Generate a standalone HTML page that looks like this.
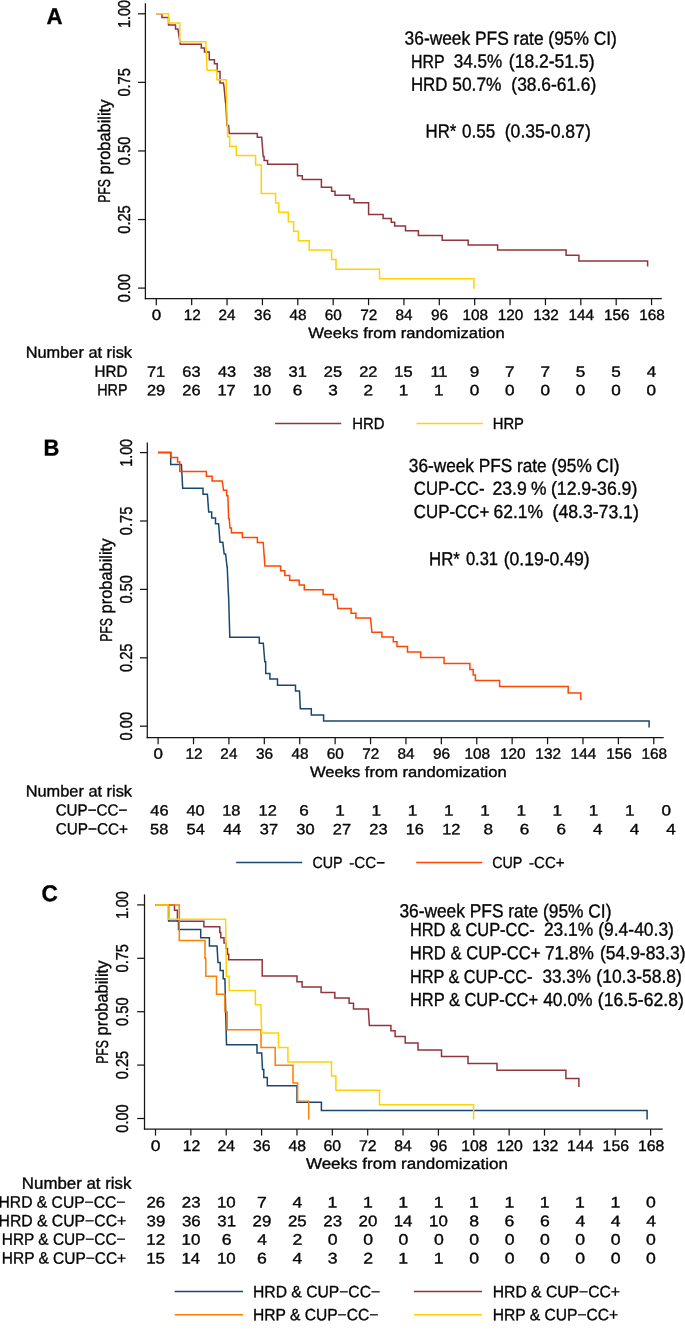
<!DOCTYPE html>
<html lang="en"><head><meta charset="utf-8"><title>PFS Kaplan-Meier</title>
<style>
html,body{margin:0;padding:0;background:#fff;}
svg{display:block;font-family:"Liberation Sans",sans-serif;}
text{white-space:pre;stroke:#050505;stroke-width:0.35px;}
</style></head><body>
<svg width="685" height="1330" viewBox="0 0 685 1330">
<rect width="685" height="1330" fill="#ffffff"/>
<text transform="translate(46.44,24.10) rotate(0.03) scale(0.9662,1)" font-size="23.0" font-weight="bold" fill="#000">A</text>
<line x1="145.40" y1="3.20" x2="145.40" y2="299.23" stroke="#151515" stroke-width="1.25" stroke-linecap="butt"/>
<line x1="144.78" y1="298.60" x2="661.80" y2="298.60" stroke="#151515" stroke-width="1.25" stroke-linecap="butt"/>
<line x1="138.10" y1="13.80" x2="145.40" y2="13.80" stroke="#151515" stroke-width="1.25" stroke-linecap="butt"/>
<text transform="translate(129.80,28.02) rotate(-89.97) scale(0.8285,1)" font-size="17.3" fill="#050505">1.00</text>
<line x1="138.10" y1="82.38" x2="145.40" y2="82.38" stroke="#151515" stroke-width="1.25" stroke-linecap="butt"/>
<text transform="translate(129.80,96.59) rotate(-89.97) scale(0.8470,1)" font-size="17.3" fill="#050505">0.75</text>
<line x1="138.10" y1="150.95" x2="145.40" y2="150.95" stroke="#151515" stroke-width="1.25" stroke-linecap="butt"/>
<text transform="translate(129.80,165.16) rotate(-89.97) scale(0.8447,1)" font-size="17.3" fill="#050505">0.50</text>
<line x1="138.10" y1="219.53" x2="145.40" y2="219.53" stroke="#151515" stroke-width="1.25" stroke-linecap="butt"/>
<text transform="translate(129.80,233.74) rotate(-89.97) scale(0.8470,1)" font-size="17.3" fill="#050505">0.25</text>
<line x1="138.10" y1="288.10" x2="145.40" y2="288.10" stroke="#151515" stroke-width="1.25" stroke-linecap="butt"/>
<text transform="translate(129.80,302.31) rotate(-89.97) scale(0.8447,1)" font-size="17.3" fill="#050505">0.00</text>
<line x1="156.30" y1="298.60" x2="156.30" y2="305.20" stroke="#151515" stroke-width="1.25" stroke-linecap="butt"/>
<text transform="translate(151.74,320.00) rotate(0.03) scale(1.1400,1)" font-size="14.9" fill="#050505">0</text>
<line x1="191.68" y1="298.60" x2="191.68" y2="305.20" stroke="#151515" stroke-width="1.25" stroke-linecap="butt"/>
<text transform="translate(183.73,320.00) rotate(0.03) scale(1.0300,1)" font-size="14.9" fill="#050505">12</text>
<line x1="227.05" y1="298.60" x2="227.05" y2="305.20" stroke="#151515" stroke-width="1.25" stroke-linecap="butt"/>
<text transform="translate(218.49,320.00) rotate(0.03) scale(1.0300,1)" font-size="14.9" fill="#050505">24</text>
<line x1="262.43" y1="298.60" x2="262.43" y2="305.20" stroke="#151515" stroke-width="1.25" stroke-linecap="butt"/>
<text transform="translate(254.10,320.00) rotate(0.03) scale(1.0300,1)" font-size="14.9" fill="#050505">36</text>
<line x1="297.80" y1="298.60" x2="297.80" y2="305.20" stroke="#151515" stroke-width="1.25" stroke-linecap="butt"/>
<text transform="translate(289.59,320.00) rotate(0.03) scale(1.0300,1)" font-size="14.9" fill="#050505">48</text>
<line x1="333.18" y1="298.60" x2="333.18" y2="305.20" stroke="#151515" stroke-width="1.25" stroke-linecap="butt"/>
<text transform="translate(324.70,320.00) rotate(0.03) scale(1.0300,1)" font-size="14.9" fill="#050505">60</text>
<line x1="368.56" y1="298.60" x2="368.56" y2="305.20" stroke="#151515" stroke-width="1.25" stroke-linecap="butt"/>
<text transform="translate(360.15,320.00) rotate(0.03) scale(1.0300,1)" font-size="14.9" fill="#050505">72</text>
<line x1="403.93" y1="298.60" x2="403.93" y2="305.20" stroke="#151515" stroke-width="1.25" stroke-linecap="butt"/>
<text transform="translate(395.45,320.00) rotate(0.03) scale(1.0300,1)" font-size="14.9" fill="#050505">84</text>
<line x1="439.31" y1="298.60" x2="439.31" y2="305.20" stroke="#151515" stroke-width="1.25" stroke-linecap="butt"/>
<text transform="translate(430.90,320.00) rotate(0.03) scale(1.0300,1)" font-size="14.9" fill="#050505">96</text>
<line x1="474.68" y1="298.60" x2="474.68" y2="305.20" stroke="#151515" stroke-width="1.25" stroke-linecap="butt"/>
<text transform="translate(462.44,320.00) rotate(0.03) scale(1.0300,1)" font-size="14.9" fill="#050505">108</text>
<line x1="510.06" y1="298.60" x2="510.06" y2="305.20" stroke="#151515" stroke-width="1.25" stroke-linecap="butt"/>
<text transform="translate(497.78,320.00) rotate(0.03) scale(1.0300,1)" font-size="14.9" fill="#050505">120</text>
<line x1="545.44" y1="298.60" x2="545.44" y2="305.20" stroke="#151515" stroke-width="1.25" stroke-linecap="butt"/>
<text transform="translate(533.23,320.00) rotate(0.03) scale(1.0300,1)" font-size="14.9" fill="#050505">132</text>
<line x1="580.81" y1="298.60" x2="580.81" y2="305.20" stroke="#151515" stroke-width="1.25" stroke-linecap="butt"/>
<text transform="translate(568.45,320.00) rotate(0.03) scale(1.0300,1)" font-size="14.9" fill="#050505">144</text>
<line x1="616.19" y1="298.60" x2="616.19" y2="305.20" stroke="#151515" stroke-width="1.25" stroke-linecap="butt"/>
<text transform="translate(603.94,320.00) rotate(0.03) scale(1.0300,1)" font-size="14.9" fill="#050505">156</text>
<line x1="651.56" y1="298.60" x2="651.56" y2="305.20" stroke="#151515" stroke-width="1.25" stroke-linecap="butt"/>
<text transform="translate(639.32,320.00) rotate(0.03) scale(1.0300,1)" font-size="14.9" fill="#050505">168</text>
<text transform="translate(308.30,338.00) rotate(0.03) scale(1.1105,1)" font-size="14.9" fill="#050505">Weeks from randomization</text>
<text transform="translate(110.10,202.78) rotate(-89.97) scale(0.7104,1)" font-size="17.2" fill="#050505">PFS</text>
<text transform="translate(110.10,174.38) rotate(-89.97) scale(0.9535,1)" font-size="17.2" fill="#050505">probability</text>
<text transform="translate(404.59,44.60) rotate(0.03) scale(0.9191,1)" font-size="18.9" fill="#050505">36-week PFS rate (95% CI)</text>
<text transform="translate(411.03,67.60) rotate(0.03) scale(0.8418,1)" font-size="18.9" fill="#050505">HRP</text>
<text transform="translate(453.80,67.60) rotate(0.03) scale(0.9051,1)" font-size="18.9" fill="#050505">34.5%</text>
<text transform="translate(508.85,67.60) rotate(0.03) scale(0.9274,1)" font-size="18.9" fill="#050505">(18.2-51.5)</text>
<text transform="translate(410.95,90.80) rotate(0.03) scale(0.8896,1)" font-size="18.9" fill="#050505">HRD</text>
<text transform="translate(452.31,90.80) rotate(0.03) scale(0.9183,1)" font-size="18.9" fill="#050505">50.7%</text>
<text transform="translate(511.36,90.80) rotate(0.03) scale(0.9197,1)" font-size="18.9" fill="#050505">(38.6-61.6)</text>
<text transform="translate(425.56,137.60) rotate(0.03) scale(0.8879,1)" font-size="18.9" fill="#050505">HR*</text>
<text transform="translate(462.10,137.60) rotate(0.03) scale(0.8998,1)" font-size="18.9" fill="#050505">0.55</text>
<text transform="translate(504.74,137.60) rotate(0.03) scale(0.9308,1)" font-size="18.9" fill="#050505">(0.35-0.87)</text>
<path d="M156.1,13.7L162.0,13.7L162.0,17.5L168.5,17.5L168.5,25.1L175.5,25.1L175.5,28.9L177.9,28.9L180.3,44.3L201.3,44.3L201.3,48.1L204.5,48.1L204.5,52.1L209.3,52.1L209.3,59.8L214.4,59.8L214.4,63.8L217.2,63.8L217.2,71.5L220.0,71.5L220.0,83.0L223.4,83.0L224.0,86.5L224.0,86.5L225.5,102.5L225.8,102.5L227.0,125.5L228.6,125.5L229.3,133.4L257.3,133.4L257.3,137.3L261.7,137.3L263.2,156.6L264.1,156.6L264.1,160.5L267.6,160.5L267.6,164.2L297.5,164.2L297.5,175.7L302.3,175.7L302.3,179.6L321.4,179.6L321.4,187.3L331.6,187.3L331.6,191.2L335.0,191.2L335.0,195.2L349.6,195.2L349.6,199.0L354.0,199.0L354.0,202.8L368.6,202.8L368.6,214.6L383.1,214.6L383.1,218.5L391.3,218.5L391.3,222.2L394.7,222.2L394.7,226.0L405.5,226.0L405.5,230.7L418.4,230.7L418.4,235.4L442.2,235.4L442.2,240.3L468.2,240.3L468.2,245.0L497.6,245.0L497.6,250.0L566.1,250.0L566.1,255.3L578.9,255.3L578.9,261.0L647.6,261.0L647.6,266.6" fill="none" stroke="#90353B" stroke-width="1.5" stroke-linejoin="miter"/>
<path d="M156.1,13.7L168.5,13.7L168.5,23.1L179.8,23.1L179.8,41.7L205.8,41.7L207.1,70.3L216.9,70.3L216.9,79.8L226.2,79.8L226.6,100.0L226.6,100.0L227.4,127.4L227.6,127.4L227.6,136.8L229.7,136.8L229.7,146.2L236.3,146.2L236.3,155.5L255.6,155.5L255.6,164.9L261.3,164.9L261.3,193.6L275.6,193.6L275.6,203.1L278.8,203.1L278.8,212.3L288.3,212.3L288.3,221.7L293.6,221.7L293.6,231.2L298.4,231.2L298.4,240.7L309.2,240.7L309.2,250.0L331.6,250.0L331.6,259.5L336.0,259.5L336.0,269.2L379.5,269.2L379.5,278.7L473.9,278.7L473.9,288.7" fill="none" stroke="#FFD200" stroke-width="1.5" stroke-linejoin="miter"/>
<text transform="translate(25.69,357.80) rotate(0.03) scale(1.0224,1)" font-size="16.0" fill="#050505">Number at risk</text>
<text transform="translate(94.58,376.70) rotate(0.03) scale(0.9498,1)" font-size="16.0" fill="#050505">HRD</text>
<text transform="translate(97.25,395.20) rotate(0.03) scale(0.8965,1)" font-size="16.0" fill="#050505">HRP</text>
<text transform="translate(146.96,376.70) rotate(0.03) scale(1.1000,1)" font-size="14.9" fill="#050505">71</text>
<text transform="translate(146.96,395.30) rotate(0.03) scale(1.1000,1)" font-size="14.9" fill="#050505">29</text>
<text transform="translate(182.30,376.70) rotate(0.03) scale(1.1000,1)" font-size="14.9" fill="#050505">63</text>
<text transform="translate(182.30,395.30) rotate(0.03) scale(1.1000,1)" font-size="14.9" fill="#050505">26</text>
<text transform="translate(217.92,376.70) rotate(0.03) scale(1.1000,1)" font-size="14.9" fill="#050505">43</text>
<text transform="translate(217.51,395.30) rotate(0.03) scale(1.1000,1)" font-size="14.9" fill="#050505">17</text>
<text transform="translate(253.17,376.70) rotate(0.03) scale(1.1000,1)" font-size="14.9" fill="#050505">38</text>
<text transform="translate(252.80,395.30) rotate(0.03) scale(1.1000,1)" font-size="14.9" fill="#050505">10</text>
<text transform="translate(288.59,376.70) rotate(0.03) scale(1.1000,1)" font-size="14.9" fill="#050505">31</text>
<text transform="translate(292.76,395.30) rotate(0.03) scale(1.1500,1)" font-size="14.9" fill="#050505">6</text>
<text transform="translate(323.80,376.70) rotate(0.03) scale(1.1000,1)" font-size="14.9" fill="#050505">25</text>
<text transform="translate(328.27,395.30) rotate(0.03) scale(1.1500,1)" font-size="14.9" fill="#050505">3</text>
<text transform="translate(359.22,376.70) rotate(0.03) scale(1.1000,1)" font-size="14.9" fill="#050505">22</text>
<text transform="translate(363.56,395.30) rotate(0.03) scale(1.1500,1)" font-size="14.9" fill="#050505">2</text>
<text transform="translate(394.35,376.70) rotate(0.03) scale(1.1000,1)" font-size="14.9" fill="#050505">15</text>
<text transform="translate(398.72,395.30) rotate(0.03) scale(1.1500,1)" font-size="14.9" fill="#050505">1</text>
<text transform="translate(430.38,376.70) rotate(0.03) scale(1.1000,1)" font-size="14.9" fill="#050505">11</text>
<text transform="translate(434.10,395.30) rotate(0.03) scale(1.1500,1)" font-size="14.9" fill="#050505">1</text>
<text transform="translate(469.73,376.70) rotate(0.03) scale(1.1500,1)" font-size="14.9" fill="#050505">9</text>
<text transform="translate(469.73,395.30) rotate(0.03) scale(1.1500,1)" font-size="14.9" fill="#050505">0</text>
<text transform="translate(505.06,376.70) rotate(0.03) scale(1.1500,1)" font-size="14.9" fill="#050505">7</text>
<text transform="translate(505.11,395.30) rotate(0.03) scale(1.1500,1)" font-size="14.9" fill="#050505">0</text>
<text transform="translate(540.44,376.70) rotate(0.03) scale(1.1500,1)" font-size="14.9" fill="#050505">7</text>
<text transform="translate(540.48,395.30) rotate(0.03) scale(1.1500,1)" font-size="14.9" fill="#050505">0</text>
<text transform="translate(575.86,376.70) rotate(0.03) scale(1.1500,1)" font-size="14.9" fill="#050505">5</text>
<text transform="translate(575.86,395.30) rotate(0.03) scale(1.1500,1)" font-size="14.9" fill="#050505">0</text>
<text transform="translate(611.23,376.70) rotate(0.03) scale(1.1500,1)" font-size="14.9" fill="#050505">5</text>
<text transform="translate(611.23,395.30) rotate(0.03) scale(1.1500,1)" font-size="14.9" fill="#050505">0</text>
<text transform="translate(646.65,376.70) rotate(0.03) scale(1.1500,1)" font-size="14.9" fill="#050505">4</text>
<text transform="translate(646.61,395.30) rotate(0.03) scale(1.1500,1)" font-size="14.9" fill="#050505">0</text>
<line x1="275.10" y1="423.45" x2="341.20" y2="423.45" stroke="#90353B" stroke-width="1.5" stroke-linecap="butt"/>
<text transform="translate(352.21,429.00) rotate(0.03) scale(0.9283,1)" font-size="16.0" fill="#050505">HRD</text>
<line x1="416.50" y1="423.45" x2="482.90" y2="423.45" stroke="#FFD200" stroke-width="1.5" stroke-linecap="butt"/>
<text transform="translate(492.72,429.00) rotate(0.03) scale(0.9249,1)" font-size="16.0" fill="#050505">HRP</text>
<text transform="translate(43.47,455.60) rotate(0.03) scale(0.9544,1)" font-size="23.0" font-weight="bold" fill="#000">B</text>
<line x1="147.30" y1="442.40" x2="147.30" y2="738.23" stroke="#151515" stroke-width="1.25" stroke-linecap="butt"/>
<line x1="146.68" y1="737.60" x2="663.70" y2="737.60" stroke="#151515" stroke-width="1.25" stroke-linecap="butt"/>
<line x1="140.00" y1="452.60" x2="147.30" y2="452.60" stroke="#151515" stroke-width="1.25" stroke-linecap="butt"/>
<text transform="translate(131.50,466.82) rotate(-89.97) scale(0.8285,1)" font-size="17.3" fill="#050505">1.00</text>
<line x1="140.00" y1="521.00" x2="147.30" y2="521.00" stroke="#151515" stroke-width="1.25" stroke-linecap="butt"/>
<text transform="translate(131.50,535.21) rotate(-89.97) scale(0.8470,1)" font-size="17.3" fill="#050505">0.75</text>
<line x1="140.00" y1="589.40" x2="147.30" y2="589.40" stroke="#151515" stroke-width="1.25" stroke-linecap="butt"/>
<text transform="translate(131.50,603.61) rotate(-89.97) scale(0.8447,1)" font-size="17.3" fill="#050505">0.50</text>
<line x1="140.00" y1="657.80" x2="147.30" y2="657.80" stroke="#151515" stroke-width="1.25" stroke-linecap="butt"/>
<text transform="translate(131.50,672.01) rotate(-89.97) scale(0.8470,1)" font-size="17.3" fill="#050505">0.25</text>
<line x1="140.00" y1="726.20" x2="147.30" y2="726.20" stroke="#151515" stroke-width="1.25" stroke-linecap="butt"/>
<text transform="translate(131.50,740.41) rotate(-89.97) scale(0.8447,1)" font-size="17.3" fill="#050505">0.00</text>
<line x1="158.10" y1="737.60" x2="158.10" y2="744.20" stroke="#151515" stroke-width="1.25" stroke-linecap="butt"/>
<text transform="translate(153.54,758.80) rotate(0.03) scale(1.1400,1)" font-size="14.9" fill="#050505">0</text>
<line x1="193.51" y1="737.60" x2="193.51" y2="744.20" stroke="#151515" stroke-width="1.25" stroke-linecap="butt"/>
<text transform="translate(185.56,758.80) rotate(0.03) scale(1.0300,1)" font-size="14.9" fill="#050505">12</text>
<line x1="228.91" y1="737.60" x2="228.91" y2="744.20" stroke="#151515" stroke-width="1.25" stroke-linecap="butt"/>
<text transform="translate(220.35,758.80) rotate(0.03) scale(1.0300,1)" font-size="14.9" fill="#050505">24</text>
<line x1="264.32" y1="737.60" x2="264.32" y2="744.20" stroke="#151515" stroke-width="1.25" stroke-linecap="butt"/>
<text transform="translate(255.99,758.80) rotate(0.03) scale(1.0300,1)" font-size="14.9" fill="#050505">36</text>
<line x1="299.72" y1="737.60" x2="299.72" y2="744.20" stroke="#151515" stroke-width="1.25" stroke-linecap="butt"/>
<text transform="translate(291.51,758.80) rotate(0.03) scale(1.0300,1)" font-size="14.9" fill="#050505">48</text>
<line x1="335.13" y1="737.60" x2="335.13" y2="744.20" stroke="#151515" stroke-width="1.25" stroke-linecap="butt"/>
<text transform="translate(326.65,758.80) rotate(0.03) scale(1.0300,1)" font-size="14.9" fill="#050505">60</text>
<line x1="370.54" y1="737.60" x2="370.54" y2="744.20" stroke="#151515" stroke-width="1.25" stroke-linecap="butt"/>
<text transform="translate(362.13,758.80) rotate(0.03) scale(1.0300,1)" font-size="14.9" fill="#050505">72</text>
<line x1="405.94" y1="737.60" x2="405.94" y2="744.20" stroke="#151515" stroke-width="1.25" stroke-linecap="butt"/>
<text transform="translate(397.46,758.80) rotate(0.03) scale(1.0300,1)" font-size="14.9" fill="#050505">84</text>
<line x1="441.35" y1="737.60" x2="441.35" y2="744.20" stroke="#151515" stroke-width="1.25" stroke-linecap="butt"/>
<text transform="translate(432.94,758.80) rotate(0.03) scale(1.0300,1)" font-size="14.9" fill="#050505">96</text>
<line x1="476.75" y1="737.60" x2="476.75" y2="744.20" stroke="#151515" stroke-width="1.25" stroke-linecap="butt"/>
<text transform="translate(464.51,758.80) rotate(0.03) scale(1.0300,1)" font-size="14.9" fill="#050505">108</text>
<line x1="512.16" y1="737.60" x2="512.16" y2="744.20" stroke="#151515" stroke-width="1.25" stroke-linecap="butt"/>
<text transform="translate(499.88,758.80) rotate(0.03) scale(1.0300,1)" font-size="14.9" fill="#050505">120</text>
<line x1="547.57" y1="737.60" x2="547.57" y2="744.20" stroke="#151515" stroke-width="1.25" stroke-linecap="butt"/>
<text transform="translate(535.36,758.80) rotate(0.03) scale(1.0300,1)" font-size="14.9" fill="#050505">132</text>
<line x1="582.97" y1="737.60" x2="582.97" y2="744.20" stroke="#151515" stroke-width="1.25" stroke-linecap="butt"/>
<text transform="translate(570.61,758.80) rotate(0.03) scale(1.0300,1)" font-size="14.9" fill="#050505">144</text>
<line x1="618.38" y1="737.60" x2="618.38" y2="744.20" stroke="#151515" stroke-width="1.25" stroke-linecap="butt"/>
<text transform="translate(606.13,758.80) rotate(0.03) scale(1.0300,1)" font-size="14.9" fill="#050505">156</text>
<line x1="653.78" y1="737.60" x2="653.78" y2="744.20" stroke="#151515" stroke-width="1.25" stroke-linecap="butt"/>
<text transform="translate(641.54,758.80) rotate(0.03) scale(1.0300,1)" font-size="14.9" fill="#050505">168</text>
<text transform="translate(309.90,777.00) rotate(0.03) scale(1.1134,1)" font-size="14.9" fill="#050505">Weeks from randomization</text>
<text transform="translate(111.80,641.78) rotate(-89.97) scale(0.7104,1)" font-size="17.2" fill="#050505">PFS</text>
<text transform="translate(111.80,613.38) rotate(-89.97) scale(0.9535,1)" font-size="17.2" fill="#050505">probability</text>
<text transform="translate(408.80,471.90) rotate(0.03) scale(0.9121,1)" font-size="18.9" fill="#050505">36-week PFS rate (95% CI)</text>
<text transform="translate(413.86,494.70) rotate(0.03) scale(0.8865,1)" font-size="18.9" fill="#050505">CUP-CC-</text>
<text transform="translate(492.52,494.70) rotate(0.03) scale(0.9324,1)" font-size="18.9" fill="#050505">23.9</text>
<text transform="translate(531.09,494.70) rotate(0.03) scale(0.9227,1)" font-size="18.9" fill="#050505">%</text>
<text transform="translate(550.94,494.70) rotate(0.03) scale(0.9352,1)" font-size="18.9" fill="#050505">(12.9-36.9)</text>
<text transform="translate(413.86,518.10) rotate(0.03) scale(0.8925,1)" font-size="18.9" fill="#050505">CUP-CC+</text>
<text transform="translate(493.53,518.10) rotate(0.03) scale(0.9235,1)" font-size="18.9" fill="#050505">62.1%</text>
<text transform="translate(552.54,518.10) rotate(0.03) scale(0.9341,1)" font-size="18.9" fill="#050505">(48.3-73.1)</text>
<text transform="translate(429.06,565.20) rotate(0.03) scale(0.8879,1)" font-size="18.9" fill="#050505">HR*</text>
<text transform="translate(465.92,565.20) rotate(0.03) scale(0.8738,1)" font-size="18.9" fill="#050505">0.31</text>
<text transform="translate(503.64,565.20) rotate(0.03) scale(0.9308,1)" font-size="18.9" fill="#050505">(0.19-0.49)</text>
<path d="M158.0,452.6L170.7,452.6L170.7,464.4L181.4,464.4L182.7,488.2L203.0,488.2L203.0,494.2L207.4,494.2L208.7,512.0L211.7,512.0L211.7,517.9L215.5,517.9L215.5,523.8L218.6,523.8L220.0,542.3L222.8,542.3L224.2,553.9L225.6,553.9L227.0,566.5L227.2,566.5L228.5,595.9L228.6,595.9L229.8,637.3L259.3,637.3L259.3,643.2L263.3,643.2L264.8,661.7L265.7,661.7L265.7,673.4L269.9,673.4L269.9,679.1L277.5,679.1L277.5,685.3L295.5,685.3L295.5,691.0L299.5,691.0L300.3,708.8L311.3,708.8L311.3,714.9L323.6,714.9L323.6,721.1L649.1,721.1L649.1,727.4" fill="none" stroke="#1A476F" stroke-width="1.5" stroke-linejoin="miter"/>
<path d="M158.0,452.6L170.9,452.6L170.9,457.4L177.6,457.4L177.6,462.1L179.8,462.1L179.8,471.5L206.4,471.5L206.4,476.2L212.1,476.2L212.1,480.9L222.2,480.9L223.5,490.3L226.7,490.3L226.7,495.7L227.9,495.7L228.6,518.6L229.2,518.6L230.0,528.0L231.4,528.0L231.4,532.8L242.3,532.8L242.3,537.6L257.4,537.6L257.4,542.4L263.2,542.4L264.9,565.9L280.6,565.9L280.6,570.7L284.8,570.7L284.8,575.4L289.7,575.4L289.7,580.2L299.2,580.2L299.2,585.0L304.3,585.0L304.3,589.7L323.1,589.7L323.1,594.4L333.5,594.4L333.5,599.0L336.9,599.0L337.9,608.5L351.1,608.5L351.1,613.3L355.9,613.3L355.9,618.0L370.5,618.0L371.9,632.3L381.9,632.3L381.9,637.1L393.3,637.1L393.3,641.7L397.0,641.7L397.0,646.5L407.5,646.5L407.5,651.9L420.7,651.9L420.7,657.6L444.1,657.6L444.1,663.5L469.9,663.5L469.9,669.4L473.2,669.4L473.2,675.1L475.4,675.1L475.4,680.6L499.6,680.6L499.6,686.6L568.2,686.6L568.2,693.0L580.8,693.0L580.8,700.3" fill="none" stroke="#FF4500" stroke-width="1.5" stroke-linejoin="miter"/>
<text transform="translate(25.69,796.50) rotate(0.03) scale(1.0224,1)" font-size="16.0" fill="#050505">Number at risk</text>
<text transform="translate(55.64,815.50) rotate(0.03) scale(0.9503,1)" font-size="16.0" fill="#050505">CUP−CC−</text>
<text transform="translate(55.63,834.35) rotate(0.03) scale(0.9581,1)" font-size="16.0" fill="#050505">CUP−CC+</text>
<text transform="translate(150.27,815.50) rotate(0.03) scale(1.1000,1)" font-size="14.9" fill="#050505">46</text>
<text transform="translate(150.10,834.35) rotate(0.03) scale(1.1000,1)" font-size="14.9" fill="#050505">58</text>
<text transform="translate(186.45,815.50) rotate(0.03) scale(1.1000,1)" font-size="14.9" fill="#050505">40</text>
<text transform="translate(186.53,834.35) rotate(0.03) scale(1.1000,1)" font-size="14.9" fill="#050505">54</text>
<text transform="translate(222.26,815.50) rotate(0.03) scale(1.1000,1)" font-size="14.9" fill="#050505">18</text>
<text transform="translate(223.24,834.35) rotate(0.03) scale(1.1000,1)" font-size="14.9" fill="#050505">44</text>
<text transform="translate(258.52,815.50) rotate(0.03) scale(1.1000,1)" font-size="14.9" fill="#050505">12</text>
<text transform="translate(259.84,834.35) rotate(0.03) scale(1.1000,1)" font-size="14.9" fill="#050505">37</text>
<text transform="translate(299.24,815.50) rotate(0.03) scale(1.1500,1)" font-size="14.9" fill="#050505">6</text>
<text transform="translate(296.30,834.35) rotate(0.03) scale(1.1000,1)" font-size="14.9" fill="#050505">30</text>
<text transform="translate(335.29,815.50) rotate(0.03) scale(1.1500,1)" font-size="14.9" fill="#050505">1</text>
<text transform="translate(332.81,834.35) rotate(0.03) scale(1.1000,1)" font-size="14.9" fill="#050505">27</text>
<text transform="translate(371.51,815.50) rotate(0.03) scale(1.1500,1)" font-size="14.9" fill="#050505">1</text>
<text transform="translate(369.32,834.35) rotate(0.03) scale(1.1000,1)" font-size="14.9" fill="#050505">23</text>
<text transform="translate(407.73,815.50) rotate(0.03) scale(1.1500,1)" font-size="14.9" fill="#050505">1</text>
<text transform="translate(405.67,834.35) rotate(0.03) scale(1.1000,1)" font-size="14.9" fill="#050505">16</text>
<text transform="translate(443.95,815.50) rotate(0.03) scale(1.1500,1)" font-size="14.9" fill="#050505">1</text>
<text transform="translate(442.26,834.35) rotate(0.03) scale(1.1000,1)" font-size="14.9" fill="#050505">12</text>
<text transform="translate(480.17,815.50) rotate(0.03) scale(1.1500,1)" font-size="14.9" fill="#050505">1</text>
<text transform="translate(483.40,834.35) rotate(0.03) scale(1.1500,1)" font-size="14.9" fill="#050505">8</text>
<text transform="translate(516.39,815.50) rotate(0.03) scale(1.1500,1)" font-size="14.9" fill="#050505">1</text>
<text transform="translate(519.86,834.35) rotate(0.03) scale(1.1500,1)" font-size="14.9" fill="#050505">6</text>
<text transform="translate(552.61,815.50) rotate(0.03) scale(1.1500,1)" font-size="14.9" fill="#050505">1</text>
<text transform="translate(556.41,834.35) rotate(0.03) scale(1.1500,1)" font-size="14.9" fill="#050505">6</text>
<text transform="translate(588.83,815.50) rotate(0.03) scale(1.1500,1)" font-size="14.9" fill="#050505">1</text>
<text transform="translate(593.09,834.35) rotate(0.03) scale(1.1500,1)" font-size="14.9" fill="#050505">4</text>
<text transform="translate(625.05,815.50) rotate(0.03) scale(1.1500,1)" font-size="14.9" fill="#050505">1</text>
<text transform="translate(629.64,834.35) rotate(0.03) scale(1.1500,1)" font-size="14.9" fill="#050505">4</text>
<text transform="translate(661.53,815.50) rotate(0.03) scale(1.1500,1)" font-size="14.9" fill="#050505">0</text>
<text transform="translate(666.19,834.35) rotate(0.03) scale(1.1500,1)" font-size="14.9" fill="#050505">4</text>
<line x1="236.20" y1="862.40" x2="302.20" y2="862.40" stroke="#1A476F" stroke-width="1.5" stroke-linecap="butt"/>
<text transform="translate(312.39,868.10) rotate(0.03) scale(0.8924,1)" font-size="16.0" fill="#050505">CUP</text>
<text transform="translate(349.30,868.10) rotate(0.03) scale(0.9451,1)" font-size="16.0" fill="#050505">-CC−</text>
<line x1="416.20" y1="862.40" x2="482.30" y2="862.40" stroke="#FF4500" stroke-width="1.5" stroke-linecap="butt"/>
<text transform="translate(492.19,868.10) rotate(0.03) scale(0.8924,1)" font-size="16.0" fill="#050505">CUP</text>
<text transform="translate(529.10,868.10) rotate(0.03) scale(0.9389,1)" font-size="16.0" fill="#050505">-CC+</text>
<text transform="translate(41.40,901.30) rotate(0.03) scale(0.9824,1)" font-size="23.0" font-weight="bold" fill="#000">C</text>
<line x1="144.50" y1="894.40" x2="144.50" y2="1129.62" stroke="#151515" stroke-width="1.25" stroke-linecap="butt"/>
<line x1="143.88" y1="1129.00" x2="662.70" y2="1129.00" stroke="#151515" stroke-width="1.25" stroke-linecap="butt"/>
<line x1="137.20" y1="904.90" x2="144.50" y2="904.90" stroke="#151515" stroke-width="1.25" stroke-linecap="butt"/>
<text transform="translate(128.10,919.12) rotate(-89.97) scale(0.8285,1)" font-size="17.3" fill="#050505">1.00</text>
<line x1="137.20" y1="958.30" x2="144.50" y2="958.30" stroke="#151515" stroke-width="1.25" stroke-linecap="butt"/>
<text transform="translate(128.10,972.51) rotate(-89.97) scale(0.8470,1)" font-size="17.3" fill="#050505">0.75</text>
<line x1="137.20" y1="1011.70" x2="144.50" y2="1011.70" stroke="#151515" stroke-width="1.25" stroke-linecap="butt"/>
<text transform="translate(128.10,1025.91) rotate(-89.97) scale(0.8447,1)" font-size="17.3" fill="#050505">0.50</text>
<line x1="137.20" y1="1065.10" x2="144.50" y2="1065.10" stroke="#151515" stroke-width="1.25" stroke-linecap="butt"/>
<text transform="translate(128.10,1079.31) rotate(-89.97) scale(0.8470,1)" font-size="17.3" fill="#050505">0.25</text>
<line x1="137.20" y1="1118.50" x2="144.50" y2="1118.50" stroke="#151515" stroke-width="1.25" stroke-linecap="butt"/>
<text transform="translate(128.10,1132.71) rotate(-89.97) scale(0.8447,1)" font-size="17.3" fill="#050505">0.00</text>
<line x1="155.50" y1="1129.00" x2="155.50" y2="1135.60" stroke="#151515" stroke-width="1.25" stroke-linecap="butt"/>
<text transform="translate(150.79,1151.10) rotate(0.03) scale(1.1400,1)" font-size="15.35" fill="#050505">0</text>
<line x1="190.86" y1="1129.00" x2="190.86" y2="1135.60" stroke="#151515" stroke-width="1.25" stroke-linecap="butt"/>
<text transform="translate(182.65,1151.10) rotate(0.03) scale(1.0300,1)" font-size="15.35" fill="#050505">12</text>
<line x1="226.23" y1="1129.00" x2="226.23" y2="1135.60" stroke="#151515" stroke-width="1.25" stroke-linecap="butt"/>
<text transform="translate(217.41,1151.10) rotate(0.03) scale(1.0300,1)" font-size="15.35" fill="#050505">24</text>
<line x1="261.59" y1="1129.00" x2="261.59" y2="1135.60" stroke="#151515" stroke-width="1.25" stroke-linecap="butt"/>
<text transform="translate(253.01,1151.10) rotate(0.03) scale(1.0300,1)" font-size="15.35" fill="#050505">36</text>
<line x1="296.96" y1="1129.00" x2="296.96" y2="1135.60" stroke="#151515" stroke-width="1.25" stroke-linecap="butt"/>
<text transform="translate(288.49,1151.10) rotate(0.03) scale(1.0300,1)" font-size="15.35" fill="#050505">48</text>
<line x1="332.32" y1="1129.00" x2="332.32" y2="1135.60" stroke="#151515" stroke-width="1.25" stroke-linecap="butt"/>
<text transform="translate(323.58,1151.10) rotate(0.03) scale(1.0300,1)" font-size="15.35" fill="#050505">60</text>
<line x1="367.68" y1="1129.00" x2="367.68" y2="1135.60" stroke="#151515" stroke-width="1.25" stroke-linecap="butt"/>
<text transform="translate(359.02,1151.10) rotate(0.03) scale(1.0300,1)" font-size="15.35" fill="#050505">72</text>
<line x1="403.05" y1="1129.00" x2="403.05" y2="1135.60" stroke="#151515" stroke-width="1.25" stroke-linecap="butt"/>
<text transform="translate(394.30,1151.10) rotate(0.03) scale(1.0300,1)" font-size="15.35" fill="#050505">84</text>
<line x1="438.41" y1="1129.00" x2="438.41" y2="1135.60" stroke="#151515" stroke-width="1.25" stroke-linecap="butt"/>
<text transform="translate(429.75,1151.10) rotate(0.03) scale(1.0300,1)" font-size="15.35" fill="#050505">96</text>
<line x1="473.78" y1="1129.00" x2="473.78" y2="1135.60" stroke="#151515" stroke-width="1.25" stroke-linecap="butt"/>
<text transform="translate(461.14,1151.10) rotate(0.03) scale(1.0300,1)" font-size="15.35" fill="#050505">108</text>
<line x1="509.14" y1="1129.00" x2="509.14" y2="1135.60" stroke="#151515" stroke-width="1.25" stroke-linecap="butt"/>
<text transform="translate(496.46,1151.10) rotate(0.03) scale(1.0300,1)" font-size="15.35" fill="#050505">120</text>
<line x1="544.50" y1="1129.00" x2="544.50" y2="1135.60" stroke="#151515" stroke-width="1.25" stroke-linecap="butt"/>
<text transform="translate(531.90,1151.10) rotate(0.03) scale(1.0300,1)" font-size="15.35" fill="#050505">132</text>
<line x1="579.87" y1="1129.00" x2="579.87" y2="1135.60" stroke="#151515" stroke-width="1.25" stroke-linecap="butt"/>
<text transform="translate(567.11,1151.10) rotate(0.03) scale(1.0300,1)" font-size="15.35" fill="#050505">144</text>
<line x1="615.23" y1="1129.00" x2="615.23" y2="1135.60" stroke="#151515" stroke-width="1.25" stroke-linecap="butt"/>
<text transform="translate(602.59,1151.10) rotate(0.03) scale(1.0300,1)" font-size="15.35" fill="#050505">156</text>
<line x1="650.60" y1="1129.00" x2="650.60" y2="1135.60" stroke="#151515" stroke-width="1.25" stroke-linecap="butt"/>
<text transform="translate(637.96,1151.10) rotate(0.03) scale(1.0300,1)" font-size="15.35" fill="#050505">168</text>
<text transform="translate(305.90,1168.80) rotate(0.03) scale(1.1094,1)" font-size="15.35" fill="#050505">Weeks from randomization</text>
<text transform="translate(107.60,1063.78) rotate(-89.97) scale(0.7104,1)" font-size="17.2" fill="#050505">PFS</text>
<text transform="translate(107.60,1035.38) rotate(-89.97) scale(0.9535,1)" font-size="17.2" fill="#050505">probability</text>
<text transform="translate(399.39,917.30) rotate(0.03) scale(0.9187,1)" font-size="18.9" fill="#050505">36-week PFS rate (95% CI)</text>
<text transform="translate(409.89,935.80) rotate(0.03) scale(0.8682,1)" font-size="18.9" fill="#050505">HRD &amp; CUP-CC-</text>
<text transform="translate(543.93,935.80) rotate(0.03) scale(0.9197,1)" font-size="18.9" fill="#050505">23.1%</text>
<text transform="translate(598.25,935.80) rotate(0.03) scale(0.9240,1)" font-size="18.9" fill="#050505">(9.4-40.3)</text>
<text transform="translate(409.87,959.20) rotate(0.03) scale(0.8797,1)" font-size="18.9" fill="#050505">HRD &amp; CUP-CC+</text>
<text transform="translate(545.04,959.20) rotate(0.03) scale(0.9120,1)" font-size="18.9" fill="#050505">71.8%</text>
<text transform="translate(600.05,959.20) rotate(0.03) scale(0.9241,1)" font-size="18.9" fill="#050505">(54.9-83.3)</text>
<text transform="translate(409.90,982.80) rotate(0.03) scale(0.8613,1)" font-size="18.9" fill="#050505">HRP &amp; CUP-CC-</text>
<text transform="translate(542.50,982.80) rotate(0.03) scale(0.9051,1)" font-size="18.9" fill="#050505">33.3%</text>
<text transform="translate(596.35,982.80) rotate(0.03) scale(0.9252,1)" font-size="18.9" fill="#050505">(10.3-58.8)</text>
<text transform="translate(409.88,1006.00) rotate(0.03) scale(0.8717,1)" font-size="18.9" fill="#050505">HRP &amp; CUP-CC+</text>
<text transform="translate(543.15,1006.00) rotate(0.03) scale(0.9231,1)" font-size="18.9" fill="#050505">40.0%</text>
<text transform="translate(597.85,1006.00) rotate(0.03) scale(0.9297,1)" font-size="18.9" fill="#050505">(16.5-62.8)</text>
<path d="M155.4,904.9L168.6,904.9L168.6,921.1L178.5,921.1L178.5,929.4L200.7,929.4L200.7,937.7L209.4,937.7L209.4,946.0L217.0,946.0L218.0,962.4L220.2,962.4L220.2,970.5L223.2,970.5L223.2,978.7L224.9,978.7L226.5,1044.7L257.0,1044.7L257.0,1052.9L261.7,1052.9L262.5,1069.6L263.8,1069.6L263.8,1077.5L267.3,1077.5L267.3,1085.8L297.0,1085.8L297.0,1102.2L321.4,1102.2L321.4,1110.6L647.1,1110.6L647.1,1119.4" fill="none" stroke="#1A476F" stroke-width="1.5" stroke-linejoin="miter"/>
<path d="M155.4,904.9L174.5,904.9L174.5,910.2L177.4,910.2L177.4,921.3L203.9,921.3L203.9,926.8L219.8,926.8L219.8,932.5L220.8,932.5L220.8,937.8L224.0,937.8L224.0,943.1L225.9,943.1L225.9,948.6L227.5,948.6L227.5,954.2L228.7,954.2L228.7,959.8L262.2,959.8L262.2,976.1L297.0,976.1L297.0,981.7L302.1,981.7L302.1,987.1L321.1,987.1L321.1,992.6L334.8,992.6L334.8,997.9L349.1,997.9L349.1,1003.3L353.5,1003.3L353.5,1009.1L368.3,1009.1L369.4,1025.4L390.9,1025.4L390.9,1030.8L395.1,1030.8L395.1,1036.5L405.2,1036.5L405.2,1042.9L418.0,1042.9L418.0,1049.9L441.5,1049.9L441.5,1056.5L468.0,1056.5L468.0,1063.6L497.0,1063.6L497.0,1070.3L565.9,1070.3L565.9,1078.5L578.9,1078.5L578.9,1087.0" fill="none" stroke="#90353B" stroke-width="1.5" stroke-linejoin="miter"/>
<path d="M155.4,904.9L179.3,904.9L179.3,940.6L205.0,940.6L205.0,958.3L205.8,958.3L205.8,976.2L216.5,976.2L216.5,994.2L224.9,994.2L224.9,1011.8L227.2,1011.8L227.2,1029.7L261.0,1029.7L261.0,1047.4L275.2,1047.4L275.2,1065.2L293.0,1065.2L293.0,1083.1L297.6,1083.1L297.6,1101.2L308.7,1101.2L308.7,1119.4" fill="none" stroke="#FF7F00" stroke-width="1.5" stroke-linejoin="miter"/>
<path d="M155.4,904.9L168.1,904.9L168.1,919.2L225.6,919.2L226.4,976.3L229.2,976.3L229.2,990.6L255.4,990.6L255.4,1004.7L260.9,1004.7L261.6,1033.1L278.5,1033.1L278.5,1047.6L287.9,1047.6L287.9,1061.9L331.5,1061.9L331.5,1076.0L335.9,1076.0L335.9,1090.2L379.5,1090.2L379.5,1104.8L473.6,1104.8L473.6,1119.4" fill="none" stroke="#FFD200" stroke-width="1.5" stroke-linejoin="miter"/>
<text transform="translate(21.85,1188.80) rotate(0.03) scale(1.0238,1)" font-size="16.48" fill="#050505">Number at risk</text>
<text transform="translate(-1.45,1207.60) rotate(0.03) scale(0.9501,1)" font-size="16.48" fill="#050505">HRD &amp; CUP−CC−</text>
<text transform="translate(-1.46,1226.20) rotate(0.03) scale(0.9552,1)" font-size="16.48" fill="#050505">HRD &amp; CUP−CC+</text>
<text transform="translate(1.87,1244.80) rotate(0.03) scale(0.9338,1)" font-size="16.48" fill="#050505">HRP &amp; CUP−CC−</text>
<text transform="translate(1.86,1263.60) rotate(0.03) scale(0.9390,1)" font-size="16.48" fill="#050505">HRP &amp; CUP−CC+</text>
<text transform="translate(146.44,1207.60) rotate(0.03) scale(1.1000,1)" font-size="15.35" fill="#050505">26</text>
<text transform="translate(181.81,1207.60) rotate(0.03) scale(1.1000,1)" font-size="15.35" fill="#050505">23</text>
<text transform="translate(216.92,1207.60) rotate(0.03) scale(1.1000,1)" font-size="15.35" fill="#050505">10</text>
<text transform="translate(257.05,1207.60) rotate(0.03) scale(1.1500,1)" font-size="15.35" fill="#050505">7</text>
<text transform="translate(292.50,1207.60) rotate(0.03) scale(1.1500,1)" font-size="15.35" fill="#050505">4</text>
<text transform="translate(327.56,1207.60) rotate(0.03) scale(1.1500,1)" font-size="15.35" fill="#050505">1</text>
<text transform="translate(362.92,1207.60) rotate(0.03) scale(1.1500,1)" font-size="15.35" fill="#050505">1</text>
<text transform="translate(398.28,1207.60) rotate(0.03) scale(1.1500,1)" font-size="15.35" fill="#050505">1</text>
<text transform="translate(433.65,1207.60) rotate(0.03) scale(1.1500,1)" font-size="15.35" fill="#050505">1</text>
<text transform="translate(469.01,1207.60) rotate(0.03) scale(1.1500,1)" font-size="15.35" fill="#050505">1</text>
<text transform="translate(504.38,1207.60) rotate(0.03) scale(1.1500,1)" font-size="15.35" fill="#050505">1</text>
<text transform="translate(539.74,1207.60) rotate(0.03) scale(1.1500,1)" font-size="15.35" fill="#050505">1</text>
<text transform="translate(575.10,1207.60) rotate(0.03) scale(1.1500,1)" font-size="15.35" fill="#050505">1</text>
<text transform="translate(610.47,1207.60) rotate(0.03) scale(1.1500,1)" font-size="15.35" fill="#050505">1</text>
<text transform="translate(646.10,1207.60) rotate(0.03) scale(1.1500,1)" font-size="15.35" fill="#050505">0</text>
<text transform="translate(146.61,1226.20) rotate(0.03) scale(1.1000,1)" font-size="15.35" fill="#050505">39</text>
<text transform="translate(181.94,1226.20) rotate(0.03) scale(1.1000,1)" font-size="15.35" fill="#050505">36</text>
<text transform="translate(217.34,1226.20) rotate(0.03) scale(1.1000,1)" font-size="15.35" fill="#050505">31</text>
<text transform="translate(252.58,1226.20) rotate(0.03) scale(1.1000,1)" font-size="15.35" fill="#050505">29</text>
<text transform="translate(287.90,1226.20) rotate(0.03) scale(1.1000,1)" font-size="15.35" fill="#050505">25</text>
<text transform="translate(323.26,1226.20) rotate(0.03) scale(1.1000,1)" font-size="15.35" fill="#050505">23</text>
<text transform="translate(358.59,1226.20) rotate(0.03) scale(1.1000,1)" font-size="15.35" fill="#050505">20</text>
<text transform="translate(393.65,1226.20) rotate(0.03) scale(1.1000,1)" font-size="15.35" fill="#050505">14</text>
<text transform="translate(429.10,1226.20) rotate(0.03) scale(1.1000,1)" font-size="15.35" fill="#050505">10</text>
<text transform="translate(469.28,1226.20) rotate(0.03) scale(1.1500,1)" font-size="15.35" fill="#050505">8</text>
<text transform="translate(504.55,1226.20) rotate(0.03) scale(1.1500,1)" font-size="15.35" fill="#050505">6</text>
<text transform="translate(539.92,1226.20) rotate(0.03) scale(1.1500,1)" font-size="15.35" fill="#050505">6</text>
<text transform="translate(575.41,1226.20) rotate(0.03) scale(1.1500,1)" font-size="15.35" fill="#050505">4</text>
<text transform="translate(610.78,1226.20) rotate(0.03) scale(1.1500,1)" font-size="15.35" fill="#050505">4</text>
<text transform="translate(646.14,1226.20) rotate(0.03) scale(1.1500,1)" font-size="15.35" fill="#050505">4</text>
<text transform="translate(146.28,1244.80) rotate(0.03) scale(1.1000,1)" font-size="15.35" fill="#050505">12</text>
<text transform="translate(181.56,1244.80) rotate(0.03) scale(1.1000,1)" font-size="15.35" fill="#050505">10</text>
<text transform="translate(221.64,1244.80) rotate(0.03) scale(1.1500,1)" font-size="15.35" fill="#050505">6</text>
<text transform="translate(257.14,1244.80) rotate(0.03) scale(1.1500,1)" font-size="15.35" fill="#050505">4</text>
<text transform="translate(292.41,1244.80) rotate(0.03) scale(1.1500,1)" font-size="15.35" fill="#050505">2</text>
<text transform="translate(327.82,1244.80) rotate(0.03) scale(1.1500,1)" font-size="15.35" fill="#050505">0</text>
<text transform="translate(363.19,1244.80) rotate(0.03) scale(1.1500,1)" font-size="15.35" fill="#050505">0</text>
<text transform="translate(398.55,1244.80) rotate(0.03) scale(1.1500,1)" font-size="15.35" fill="#050505">0</text>
<text transform="translate(433.91,1244.80) rotate(0.03) scale(1.1500,1)" font-size="15.35" fill="#050505">0</text>
<text transform="translate(469.28,1244.80) rotate(0.03) scale(1.1500,1)" font-size="15.35" fill="#050505">0</text>
<text transform="translate(504.64,1244.80) rotate(0.03) scale(1.1500,1)" font-size="15.35" fill="#050505">0</text>
<text transform="translate(540.01,1244.80) rotate(0.03) scale(1.1500,1)" font-size="15.35" fill="#050505">0</text>
<text transform="translate(575.37,1244.80) rotate(0.03) scale(1.1500,1)" font-size="15.35" fill="#050505">0</text>
<text transform="translate(610.73,1244.80) rotate(0.03) scale(1.1500,1)" font-size="15.35" fill="#050505">0</text>
<text transform="translate(646.10,1244.80) rotate(0.03) scale(1.1500,1)" font-size="15.35" fill="#050505">0</text>
<text transform="translate(146.23,1263.60) rotate(0.03) scale(1.1000,1)" font-size="15.35" fill="#050505">15</text>
<text transform="translate(181.47,1263.60) rotate(0.03) scale(1.1000,1)" font-size="15.35" fill="#050505">14</text>
<text transform="translate(216.92,1263.60) rotate(0.03) scale(1.1000,1)" font-size="15.35" fill="#050505">10</text>
<text transform="translate(257.01,1263.60) rotate(0.03) scale(1.1500,1)" font-size="15.35" fill="#050505">6</text>
<text transform="translate(292.50,1263.60) rotate(0.03) scale(1.1500,1)" font-size="15.35" fill="#050505">4</text>
<text transform="translate(327.87,1263.60) rotate(0.03) scale(1.1500,1)" font-size="15.35" fill="#050505">3</text>
<text transform="translate(363.14,1263.60) rotate(0.03) scale(1.1500,1)" font-size="15.35" fill="#050505">2</text>
<text transform="translate(398.28,1263.60) rotate(0.03) scale(1.1500,1)" font-size="15.35" fill="#050505">1</text>
<text transform="translate(433.65,1263.60) rotate(0.03) scale(1.1500,1)" font-size="15.35" fill="#050505">1</text>
<text transform="translate(469.28,1263.60) rotate(0.03) scale(1.1500,1)" font-size="15.35" fill="#050505">0</text>
<text transform="translate(504.64,1263.60) rotate(0.03) scale(1.1500,1)" font-size="15.35" fill="#050505">0</text>
<text transform="translate(540.01,1263.60) rotate(0.03) scale(1.1500,1)" font-size="15.35" fill="#050505">0</text>
<text transform="translate(575.37,1263.60) rotate(0.03) scale(1.1500,1)" font-size="15.35" fill="#050505">0</text>
<text transform="translate(610.73,1263.60) rotate(0.03) scale(1.1500,1)" font-size="15.35" fill="#050505">0</text>
<text transform="translate(646.10,1263.60) rotate(0.03) scale(1.1500,1)" font-size="15.35" fill="#050505">0</text>
<line x1="174.60" y1="1291.55" x2="243.00" y2="1291.55" stroke="#1A476F" stroke-width="1.5" stroke-linecap="butt"/>
<text transform="translate(253.05,1297.30) rotate(0.03) scale(0.9504,1)" font-size="16.5" fill="#050505">HRD &amp; CUP−CC−</text>
<line x1="174.60" y1="1314.65" x2="243.00" y2="1314.65" stroke="#FF7F00" stroke-width="1.5" stroke-linecap="butt"/>
<text transform="translate(253.05,1320.20) rotate(0.03) scale(0.9441,1)" font-size="16.5" fill="#050505">HRP &amp; CUP−CC−</text>
<line x1="413.90" y1="1291.55" x2="482.00" y2="1291.55" stroke="#90353B" stroke-width="1.5" stroke-linecap="butt"/>
<text transform="translate(492.74,1297.30) rotate(0.03) scale(0.9510,1)" font-size="16.5" fill="#050505">HRD &amp; CUP−CC+</text>
<line x1="413.90" y1="1314.65" x2="482.00" y2="1314.65" stroke="#FFD200" stroke-width="1.5" stroke-linecap="butt"/>
<text transform="translate(492.75,1320.20) rotate(0.03) scale(0.9470,1)" font-size="16.5" fill="#050505">HRP &amp; CUP−CC+</text>
</svg>
</body></html>
